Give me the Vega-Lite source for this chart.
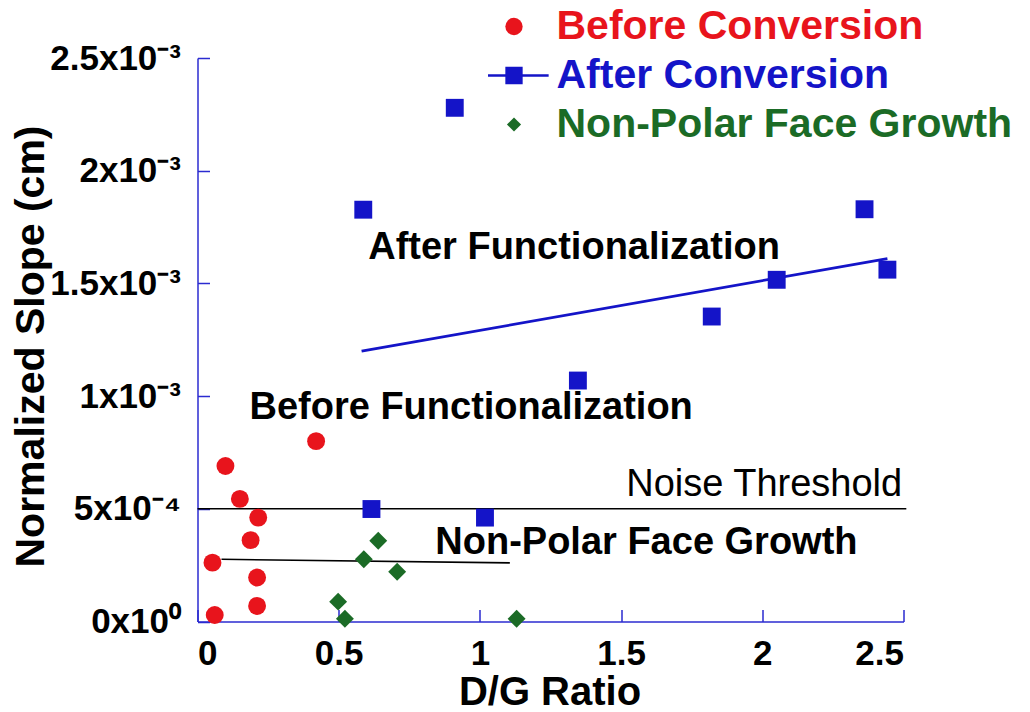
{
  "$schema": "https://vega.github.io/schema/vega-lite/v6.json",
  "width": 706,
  "height": 563.5,
  "autosize": {"type": "none"},
  "padding": {"left": 197.5, "top": 58, "right": 126.5, "bottom": 90.5},
  "background": "white",
  "config": {
    "view": {"stroke": null},
    "font": "Liberation Sans",
    "axis": {
      "domainColor": "#2b2bd0",
      "domainWidth": 1.5,
      "ticks": false,
      "tickSize": 0,
      "grid": true,
      "gridColor": "#2b2bd0",
      "gridWidth": 1.5,
      "gridOpacity": 1,
      "labelFont": "Liberation Sans",
      "labelFontSize": 35,
      "labelFontWeight": "bold",
      "labelColor": "black",
      "titleFont": "Liberation Sans",
      "titleFontWeight": "bold",
      "titleColor": "black"
    }
  },
  "datasets": {
    "before": [
      {"series": "Before Conversion", "dg": 0.42, "slope": 0.00080},
      {"series": "Before Conversion", "dg": 0.099, "slope": 0.00069},
      {"series": "Before Conversion", "dg": 0.150, "slope": 0.000544},
      {"series": "Before Conversion", "dg": 0.215, "slope": 0.000461},
      {"series": "Before Conversion", "dg": 0.188, "slope": 0.000361},
      {"series": "Before Conversion", "dg": 0.053, "slope": 0.000261},
      {"series": "Before Conversion", "dg": 0.211, "slope": 0.000195},
      {"series": "Before Conversion", "dg": 0.211, "slope": 0.000069},
      {"series": "Before Conversion", "dg": 0.061, "slope": 0.000029}
    ],
    "after": [
      {"series": "After Conversion", "dg": 0.616, "slope": 0.000499},
      {"series": "After Conversion", "dg": 1.018, "slope": 0.000461},
      {"series": "After Conversion", "dg": 0.911, "slope": 0.002279},
      {"series": "After Conversion", "dg": 0.587, "slope": 0.001827},
      {"series": "After Conversion", "dg": 2.362, "slope": 0.001829},
      {"series": "After Conversion", "dg": 2.443, "slope": 0.001561},
      {"series": "After Conversion", "dg": 2.051, "slope": 0.001516},
      {"series": "After Conversion", "dg": 1.821, "slope": 0.001353},
      {"series": "After Conversion", "dg": 1.347, "slope": 0.001069}
    ],
    "nonpolar": [
      {"series": "Non-Polar Face Growth", "dg": 0.640, "slope": 0.000358},
      {"series": "Non-Polar Face Growth", "dg": 0.589, "slope": 0.000276},
      {"series": "Non-Polar Face Growth", "dg": 0.707, "slope": 0.000221},
      {"series": "Non-Polar Face Growth", "dg": 0.498, "slope": 0.000088},
      {"series": "Non-Polar Face Growth", "dg": 0.522, "slope": 0.000012},
      {"series": "Non-Polar Face Growth", "dg": 1.130, "slope": 0.000012}
    ],
    "refs": [
      {"line": "noise", "dg": 0.0, "slope": 0.0005},
      {"line": "noise", "dg": 2.51, "slope": 0.0005},
      {"line": "nonpolar", "dg": 0.085, "slope": 0.000276},
      {"line": "nonpolar", "dg": 1.106, "slope": 0.00026}
    ],
    "fit": [
      {"dg": 0.581, "slope": 0.001199},
      {"dg": 2.443, "slope": 0.00161}
    ],
    "notesBold": [
      {"text": "After Functionalization", "dg": 0.6045, "slope": 0.001607},
      {"text": "Before Functionalization", "dg": 0.184, "slope": 0.0009},
      {"text": "Non-Polar Face Growth", "dg": 0.842, "slope": 0.000299}
    ],
    "notesPlain": [
      {"text": "Noise Threshold", "dg": 1.518, "slope": 0.000558}
    ]
  },
  "encoding": {
    "x": {
      "field": "dg",
      "type": "quantitative",
      "scale": {"domain": [0, 2.5], "nice": false, "zero": false},
      "axis": {
        "title": "D/G Ratio",
        "values": [0, 0.5, 1, 1.5, 2, 2.5],
        "format": "~g",
        "labelPadding": 15,
        "gridDash": [0, 551.5, 12, 100],
        "titleFontSize": 40,
        "titleX": 352,
        "titleY": 83,
        "titleAlign": "center",
        "titleBaseline": "alphabetic"
      }
    },
    "y": {
      "field": "slope",
      "type": "quantitative",
      "scale": {"domain": [0, 0.0025], "nice": false, "zero": false},
      "axis": {
        "title": "Normalized Slope (cm)",
        "values": [0, 0.0005, 0.001, 0.0015, 0.002, 0.0025],
        "labelExpr": "['0x10⁰','5x10⁻⁴','1x10⁻³','1.5x10⁻³','2x10⁻³','2.5x10⁻³'][round(datum.value/0.0005)]",
        "labelPadding": 17,
        "gridDash": [12, 3000],
        "titleFontSize": 41,
        "titleX": -154.5,
        "titleY": 288,
        "titleAlign": "center",
        "titleBaseline": "alphabetic",
        "titleAngle": 270
      }
    }
  },
  "layer": [
    {
      "data": {"name": "refs"},
      "mark": {"type": "line", "color": "black", "strokeWidth": 1.6},
      "encoding": {"detail": {"field": "line"}}
    },
    {
      "data": {"name": "fit"},
      "mark": {"type": "line", "color": "#1414c8", "strokeWidth": 2.8},
      "encoding": {}
    },
    {
      "data": {"name": "before"},
      "mark": {"type": "point", "shape": "circle", "filled": true, "opacity": 1, "size": 320},
      "encoding": {
        "color": {
          "field": "series",
          "type": "nominal",
          "scale": {
            "domain": ["Before Conversion", "After Conversion", "Non-Polar Face Growth"],
            "range": ["#e8141c", "#1414c8", "#1b6b26"]
          },
          "legend": {
            "title": null,
            "orient": "none",
            "legendX": 296,
            "legendY": -52,
            "padding": 0,
            "labelFont": "Liberation Sans",
            "labelFontSize": 41,
            "labelFontWeight": "bold",
            "labelColor": {"expr": "datum.value === 'Before Conversion' ? '#e8141c' : datum.value === 'After Conversion' ? '#1414c8' : '#1b6b26'"},
            "labelOffset": 22,
            "labelLimit": 600,
            "rowPadding": 7,
            "symbolType": {"expr": "datum.value === 'Before Conversion' ? 'circle' : datum.value === 'After Conversion' ? 'M-1,-1H1V1H-1Z M-3,-0.15H4.0V0.15H-3Z' : 'diamond'"},
            "symbolSize": {"expr": "datum.value === 'Non-Polar Face Growth' ? 200 : 300"},
            "symbolFillColor": {"expr": "datum.value === 'Before Conversion' ? '#e8141c' : datum.value === 'After Conversion' ? '#1414c8' : '#1b6b26'"},
            "symbolStrokeWidth": 0
          }
        }
      }
    },
    {
      "data": {"name": "after"},
      "mark": {"type": "point", "shape": "square", "filled": true, "opacity": 1, "size": 320},
      "encoding": {"color": {"field": "series", "type": "nominal"}}
    },
    {
      "data": {"name": "nonpolar"},
      "mark": {"type": "point", "shape": "diamond", "filled": true, "opacity": 1, "size": 320},
      "encoding": {"color": {"field": "series", "type": "nominal"}}
    },
    {
      "data": {"name": "notesBold"},
      "mark": {"type": "text", "align": "left", "baseline": "alphabetic", "fontSize": 38, "fontWeight": "bold", "font": "Liberation Sans", "color": "black"},
      "encoding": {"text": {"field": "text"}}
    },
    {
      "data": {"name": "notesPlain"},
      "mark": {"type": "text", "align": "left", "baseline": "alphabetic", "fontSize": 38, "fontWeight": "normal", "font": "Liberation Sans", "color": "black"},
      "encoding": {"text": {"field": "text"}}
    }
  ]
}
